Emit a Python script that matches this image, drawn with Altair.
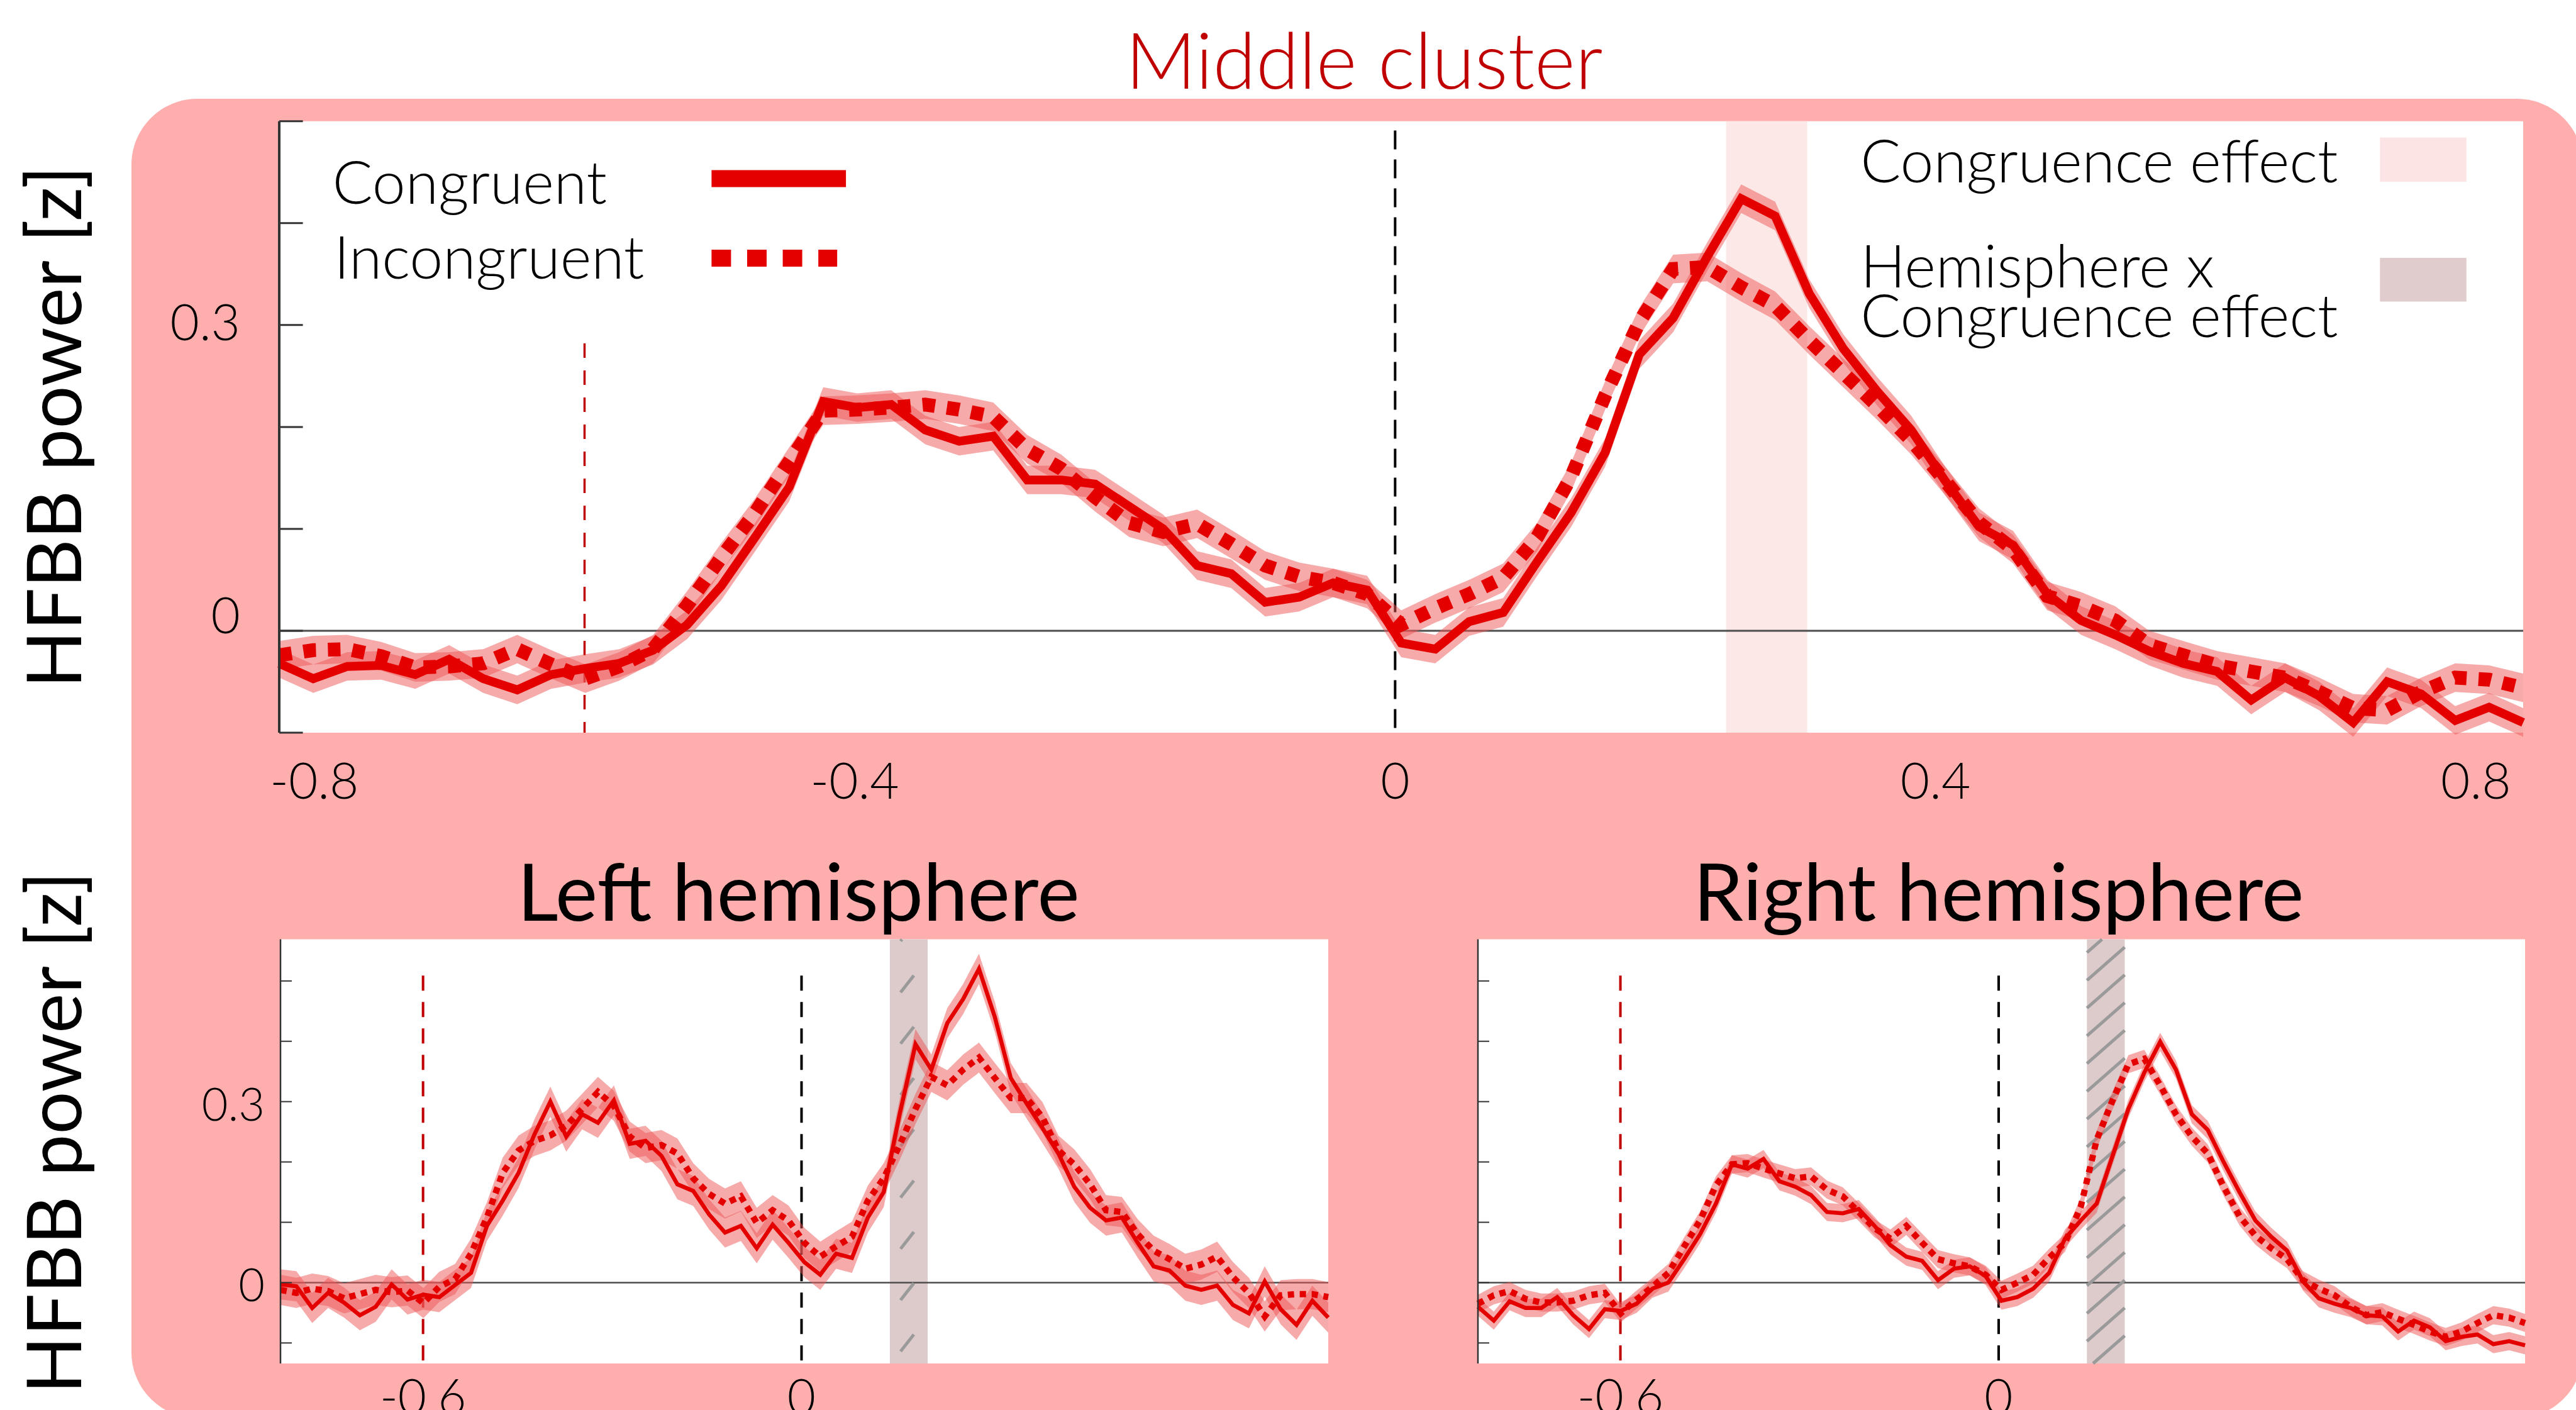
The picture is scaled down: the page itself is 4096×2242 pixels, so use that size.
import altair as alt
import pandas as pd

W, H = 4096, 2242
FONT = "Lato"

# ---------------- data ----------------
N_SAMPLES = 67
TIME = [round(-0.826 + k * 1.661 / (N_SAMPLES - 1), 4) for k in range(N_SAMPLES)]

MIDDLE_CONGRUENT = [
    -0.032, -0.047, -0.035, -0.034, -0.043, -0.028, -0.047, -0.058, -0.043, -0.037,
    -0.032, -0.019, 0.006, 0.044, 0.092, 0.141, 0.225, 0.219, 0.222, 0.197,
    0.186, 0.191, 0.148, 0.148, 0.144, 0.122, 0.100, 0.064, 0.056, 0.028,
    0.033, 0.047, 0.040, -0.012, -0.018, 0.009, 0.018, 0.068, 0.116, 0.175,
    0.271, 0.307, 0.367, 0.424, 0.407, 0.331, 0.277, 0.235, 0.197, 0.147,
    0.102, 0.084, 0.036, 0.010, -0.004, -0.020, -0.032, -0.040, -0.068, -0.046,
    -0.064, -0.090, -0.050, -0.062, -0.088, -0.075, -0.090]
MIDDLE_INCONGRUENT = [
    -0.024, -0.019, -0.018, -0.025, -0.036, -0.035, -0.032, -0.018, -0.033, -0.047,
    -0.035, -0.018, 0.025, 0.072, 0.116, 0.166, 0.216, 0.217, 0.219, 0.222,
    0.217, 0.210, 0.178, 0.159, 0.131, 0.106, 0.097, 0.105, 0.085, 0.064,
    0.053, 0.047, 0.036, 0.006, 0.022, 0.036, 0.052, 0.092, 0.151, 0.231,
    0.303, 0.355, 0.357, 0.337, 0.319, 0.285, 0.253, 0.221, 0.187, 0.147,
    0.106, 0.080, 0.034, 0.024, 0.010, -0.014, -0.024, -0.034, -0.040, -0.046,
    -0.060, -0.076, -0.078, -0.060, -0.046, -0.048, -0.056]
LEFT_CONGRUENT = [
    -0.003, -0.006, -0.042, -0.017, -0.033, -0.054, -0.040, -0.003, -0.028, -0.020,
    -0.024, -0.004, 0.016, 0.094, 0.136, 0.182, 0.246, 0.300, 0.242, 0.279,
    0.265, 0.302, 0.230, 0.235, 0.210, 0.163, 0.152, 0.113, 0.083, 0.094,
    0.057, 0.096, 0.066, 0.034, 0.013, 0.048, 0.041, 0.108, 0.150, 0.279,
    0.395, 0.353, 0.430, 0.470, 0.520, 0.440, 0.339, 0.297, 0.256, 0.214,
    0.159, 0.124, 0.103, 0.108, 0.066, 0.027, 0.020, -0.005, -0.012, -0.005,
    -0.037, -0.051, 0.002, -0.044, -0.070, -0.030, -0.058]
LEFT_INCONGRUENT = [
    -0.012, -0.017, -0.010, -0.014, -0.026, -0.019, -0.012, -0.016, -0.013, -0.034,
    -0.007, 0.006, 0.048, 0.108, 0.182, 0.219, 0.235, 0.244, 0.260, 0.288,
    0.316, 0.293, 0.242, 0.223, 0.228, 0.214, 0.173, 0.147, 0.131, 0.143,
    0.099, 0.120, 0.103, 0.066, 0.043, 0.060, 0.076, 0.136, 0.173, 0.228,
    0.288, 0.341, 0.327, 0.353, 0.373, 0.339, 0.306, 0.306, 0.274, 0.219,
    0.196, 0.163, 0.120, 0.117, 0.080, 0.053, 0.039, 0.023, 0.030, 0.043,
    0.009, -0.017, -0.056, -0.021, -0.019, -0.019, -0.024]
RIGHT_CONGRUENT = [
    -0.040, -0.063, -0.031, -0.042, -0.042, -0.024, -0.054, -0.077, -0.044, -0.047,
    -0.035, -0.010, 0.000, 0.039, 0.080, 0.131, 0.196, 0.189, 0.205, 0.168,
    0.159, 0.145, 0.117, 0.115, 0.122, 0.094, 0.062, 0.043, 0.036, 0.004,
    0.023, 0.027, 0.011, -0.030, -0.024, -0.010, 0.016, 0.073, 0.103, 0.131,
    0.210, 0.288, 0.348, 0.399, 0.353, 0.279, 0.253, 0.200, 0.150, 0.103,
    0.076, 0.053, 0.002, -0.026, -0.035, -0.042, -0.054, -0.056, -0.081, -0.063,
    -0.074, -0.097, -0.090, -0.086, -0.102, -0.097, -0.104]
RIGHT_INCONGRUENT = [
    -0.035, -0.021, -0.014, -0.027, -0.033, -0.033, -0.030, -0.021, -0.017, -0.051,
    -0.028, -0.007, 0.016, 0.060, 0.103, 0.161, 0.196, 0.198, 0.189, 0.181,
    0.173, 0.176, 0.154, 0.143, 0.117, 0.090, 0.073, 0.094, 0.066, 0.039,
    0.032, 0.027, 0.013, -0.012, 0.000, 0.013, 0.041, 0.066, 0.126, 0.237,
    0.302, 0.362, 0.371, 0.327, 0.279, 0.242, 0.214, 0.159, 0.110, 0.078,
    0.057, 0.039, 0.004, -0.010, -0.021, -0.040, -0.054, -0.049, -0.060, -0.070,
    -0.081, -0.090, -0.081, -0.067, -0.054, -0.058, -0.067]

# half-width of the shaded error band
MIDDLE_SE = 0.014
LEFT_SE = 0.025
RIGHT_SE = 0.015

for s in (MIDDLE_CONGRUENT, MIDDLE_INCONGRUENT, LEFT_CONGRUENT, LEFT_INCONGRUENT,
          RIGHT_CONGRUENT, RIGHT_INCONGRUENT):
    assert len(s) == N_SAMPLES

X_TICKS_TOP = [-0.8, -0.4, 0, 0.4, 0.8]
X_TICKS_BOTTOM = [-0.6, 0]
Y_LABELS = [0, 0.3]
Y_TICKS = [-0.1, 0, 0.1, 0.2, 0.3, 0.4, 0.5]
CUE_TIME = -0.6
STIM_TIME = 0.0
CONGRUENCE_WINDOW = (0.245, 0.305)
HEMISPHERE_WINDOW = (0.14, 0.20)

LEGEND_LINES = ["Congruent", "Incongruent"]
LEGEND_EFFECTS = ["Congruence effect", "Hemisphere x", "Congruence effect"]
TITLE_MAIN = "Middle cluster"
TITLE_LEFT = "Left hemisphere"
TITLE_RIGHT = "Right hemisphere"
Y_TITLE = "HFBB power [z]"

# ---------------- styles ----------------
PINK = "#ffaeae"
RED = "#e50000"
DARKRED = "#c00000"
BAND = "#ee5555"
CONG_FILL = "#fde8e8"
HEMI_FILL = "#ddcbcb"
HATCH = "#9a9a9a"
AXIS_GREY = "#333333"

X_DOM = (-0.826, 0.835)
TOP_Y = (-0.1, 0.5)
BOT_Y = (-0.134, 0.569)
# pixel boxes: x0, x1, ytop, ybottom
TOP_BOX = (444, 4012, 192.8, 1165)
BL_BOX = (446, 2112, 1493.6, 2168)
BR_BOX = (2350, 4015, 1493.6, 2168)


def fmt(v):
    return "0" if v == 0 else str(v)


def hatch_segments(xa, xb, rise, step, lo, hi, start):
    segs = []
    b = start
    while b < hi:
        s0 = max(0.0, (lo - b) / rise)
        s1 = min(1.0, (hi - b) / rise)
        if s1 > s0:
            segs.append(dict(xa=xa + (xb - xa) * s0, ya=b + rise * s0,
                             xb=xa + (xb - xa) * s1, yb=b + rise * s1))
        b += step
    return pd.DataFrame(segs)


def panel(box, ydom, con, inc, se, big, window, window_fill, cue_top, stim_top,
          x_ticks, y_labels, y_title=None, hatch=None):
    xs = alt.Scale(domain=list(X_DOM), range=[box[0], box[1]], nice=False, zero=False)
    ys = alt.Scale(domain=list(ydom), range=[box[3], box[2]], nice=False, zero=False)

    def X(f):
        return alt.X(f, type="quantitative", scale=xs, axis=None)

    def Y(f):
        return alt.Y(f, type="quantitative", scale=ys, axis=None)

    layers = []
    frame = pd.DataFrame({"x0": [X_DOM[0]], "x1": [X_DOM[1]], "y0": [ydom[0]], "y1": [ydom[1]]})
    layers.append(alt.Chart(frame).mark_rect(fill="white").encode(
        x=X("x0"), x2="x1", y=Y("y0"), y2="y1"))

    win = pd.DataFrame({"a": [window[0]], "b": [window[1]], "y0": [ydom[0]], "y1": [ydom[1]]})
    layers.append(alt.Chart(win).mark_rect(fill=window_fill).encode(
        x=X("a"), x2="b", y=Y("y0"), y2="y1"))

    zero = pd.DataFrame({"x0": [X_DOM[0]], "x1": [X_DOM[1]], "v": [0.0]})
    layers.append(alt.Chart(zero).mark_rule(color="#4d4d4d", strokeWidth=3 if big else 2.5).encode(
        x=X("x0"), x2="x1", y=Y("v")))

    cue = pd.DataFrame({"t": [CUE_TIME], "top": [cue_top], "bot": [ydom[0]]})
    layers.append(alt.Chart(cue).mark_rule(
        color=DARKRED, strokeWidth=3.5 if big else 4,
        strokeDash=[23, 20] if big else [24, 18]).encode(x=X("t"), y=Y("top"), y2="bot"))
    stim = pd.DataFrame({"t": [STIM_TIME], "top": [stim_top], "bot": [ydom[0]]})
    layers.append(alt.Chart(stim).mark_rule(
        color="black", strokeWidth=4,
        strokeDash=[30, 16] if big else [24, 18]).encode(x=X("t"), y=Y("top"), y2="bot"))

    if hatch is not None:
        layers.append(alt.Chart(hatch).mark_rule(color=HATCH, strokeWidth=5).encode(
            x=X("xa"), y=Y("ya"), x2="xb", y2="yb"))

    def band(vals):
        return pd.DataFrame({"t": TIME, "lo": [v - se for v in vals], "hi": [v + se for v in vals]})

    for vals in (con, inc):
        layers.append(alt.Chart(band(vals)).mark_area(color=BAND, opacity=0.5).encode(
            x=X("t"), y=Y("lo"), y2="hi"))

    inc_df = pd.DataFrame({"t": TIME, "v": inc})
    con_df = pd.DataFrame({"t": TIME, "v": con})
    layers.append(alt.Chart(inc_df).mark_line(
        color=RED, strokeWidth=22 if big else 10,
        strokeDash=[20, 19] if big else [10, 9]).encode(x=X("t"), y=Y("v")))
    layers.append(alt.Chart(con_df).mark_line(
        color=RED, strokeWidth=14 if big else 6.5).encode(x=X("t"), y=Y("v")))

    # left axis line and inward ticks
    dom = pd.DataFrame({"t": [X_DOM[0]], "y0": [ydom[0]], "y1": [ydom[1]]})
    layers.append(alt.Chart(dom).mark_rule(color=AXIS_GREY, strokeWidth=4 if big else 2.5).encode(
        x=X("t"), y=Y("y0"), y2="y1"))
    tick_len = 0.0175 if big else 0.018
    ticks = pd.DataFrame({"v": Y_TICKS, "x0": [X_DOM[0]] * len(Y_TICKS),
                          "x1": [X_DOM[0] + tick_len] * len(Y_TICKS)})
    layers.append(alt.Chart(ticks).mark_rule(color=AXIS_GREY, strokeWidth=3 if big else 2).encode(
        x=X("x0"), x2="x1", y=Y("v")))

    # tick labels
    xl = pd.DataFrame({"t": x_ticks, "v": [ydom[0]] * len(x_ticks),
                       "label": [fmt(v) for v in x_ticks]})
    layers.append(alt.Chart(xl).mark_text(
        font=FONT, fontSize=80 if big else 78, fontWeight=300, color="black", align="center",
        baseline="top", dy=42 if big else 19).encode(
        x=X("t"), y=Y("v"), text=alt.Text("label", type="nominal")))
    for v in y_labels:
        yl = pd.DataFrame({"t": [X_DOM[0]], "v": [v], "label": [fmt(v)]})
        if big:
            dy = -20 if v == 0 else 0
        else:
            dy = 8
        layers.append(alt.Chart(yl).mark_text(
            font=FONT, fontSize=80 if big else 72, fontWeight=300, color="black",
            align="right", baseline="middle", dx=-62 if big else -25, dy=dy).encode(
            x=X("t"), y=Y("v"), text=alt.Text("label", type="nominal")))
    if y_title is not None:
        tt = pd.DataFrame({"t": [y_title[0]], "v": [y_title[1]], "label": [Y_TITLE]})
        layers.append(alt.Chart(tt).mark_text(
            font=FONT, fontSize=120, fontWeight=400, color="black", angle=270,
            align="center", baseline="alphabetic").encode(
            x=X("t"), y=Y("v"), text=alt.Text("label", type="nominal")))

    return layers, X, Y


def text_layer(df, X, Y, **style):
    return alt.Chart(df).mark_text(font=FONT, baseline="alphabetic", **style).encode(
        x=X("t"), y=Y("v"), text=alt.Text("label", type="nominal"))


# ---------------- middle cluster panel ----------------
top_layers, TX, TY = panel(TOP_BOX, TOP_Y, MIDDLE_CONGRUENT, MIDDLE_INCONGRUENT, MIDDLE_SE,
                           True, CONGRUENCE_WINDOW, CONG_FILL, cue_top=0.282, stim_top=0.491,
                           x_ticks=X_TICKS_TOP, y_labels=Y_LABELS, y_title=(-0.9727, 0.2))

top_layers.append(text_layer(pd.DataFrame({"t": [-0.023], "v": [0.532], "label": [TITLE_MAIN]}),
                             TX, TY, fontSize=124, fontWeight=300, color=DARKRED, align="center"))
top_layers.append(text_layer(pd.DataFrame({"t": [-0.7867, -0.7855], "v": [0.419, 0.3456],
                                           "label": LEGEND_LINES}),
                             TX, TY, fontSize=95, fontWeight=300, color="black", align="left"))
top_layers.append(text_layer(pd.DataFrame({"t": [0.3444, 0.3444, 0.3444], "v": [0.44, 0.337, 0.288],
                                           "label": LEGEND_EFFECTS}),
                             TX, TY, fontSize=95, fontWeight=300, color="black", align="left"))

leg_solid = pd.DataFrame({"a": [-0.506], "b": [-0.4065], "v": [0.4437]})
leg_dot = pd.DataFrame({"a": [-0.506], "b": [-0.413], "v": [0.3656]})
top_layers.append(alt.Chart(leg_solid).mark_rule(color=RED, strokeWidth=27).encode(
    x=TX("a"), x2="b", y=TY("v")))
top_layers.append(alt.Chart(leg_dot).mark_rule(color=RED, strokeWidth=27, strokeDash=[31, 25.6]).encode(
    x=TX("a"), x2="b", y=TY("v")))
sw1 = pd.DataFrame({"a": [0.729], "b": [0.793], "y0": [0.4406], "y1": [0.484]})
sw2 = pd.DataFrame({"a": [0.729], "b": [0.793], "y0": [0.323], "y1": [0.366]})
top_layers.append(alt.Chart(sw1).mark_rect(fill="#fde4e4").encode(x=TX("a"), x2="b", y=TY("y0"), y2="y1"))
top_layers.append(alt.Chart(sw2).mark_rect(fill="#e0cccc").encode(x=TX("a"), x2="b", y=TY("y0"), y2="y1"))

# ---------------- hemisphere panels ----------------
left_hatch = hatch_segments(0.157, 0.178, 0.028, 0.085, BOT_Y[0], BOT_Y[1], BOT_Y[0] + 0.02)
right_hatch = hatch_segments(HEMISPHERE_WINDOW[0], HEMISPHERE_WINDOW[1], 0.055, 0.046,
                             BOT_Y[0], BOT_Y[1], BOT_Y[0] - 0.055)

bl_layers, LX, LY = panel(BL_BOX, BOT_Y, LEFT_CONGRUENT, LEFT_INCONGRUENT, LEFT_SE,
                          False, HEMISPHERE_WINDOW, HEMI_FILL, cue_top=0.509, stim_top=0.509,
                          x_ticks=X_TICKS_BOTTOM, y_labels=Y_LABELS, y_title=(-1.142, 0.2487),
                          hatch=left_hatch)
bl_layers.append(text_layer(pd.DataFrame({"t": [-0.005], "v": [0.60], "label": [TITLE_LEFT]}),
                            LX, LY, fontSize=127, fontWeight=400, color="black", align="center"))

br_layers, RX, RY = panel(BR_BOX, BOT_Y, RIGHT_CONGRUENT, RIGHT_INCONGRUENT, RIGHT_SE,
                          False, HEMISPHERE_WINDOW, HEMI_FILL, cue_top=0.509, stim_top=0.509,
                          x_ticks=X_TICKS_BOTTOM, y_labels=[], hatch=right_hatch)
br_layers.append(text_layer(pd.DataFrame({"t": [0.0], "v": [0.60], "label": [TITLE_RIGHT]}),
                            RX, RY, fontSize=127, fontWeight=400, color="black", align="center"))

# pink rounded backdrop behind the three panels
backdrop = alt.Chart(pd.DataFrame({"a": [0]})).mark_rect(fill=PINK, cornerRadius=105).encode(
    x=alt.value(209), x2=alt.value(4107), y=alt.value(157), y2=alt.value(2255))

chart = alt.layer(
    backdrop,
    alt.layer(*top_layers),
    alt.layer(*bl_layers),
    alt.layer(*br_layers),
).resolve_scale(x="independent", y="independent").properties(
    width=W, height=H, padding=0, background="white",
    autosize=alt.AutoSizeParams(type="none"),
).configure_view(strokeWidth=0)

chart.save("out.html", embed_options={"renderer": "svg", "actions": False})
